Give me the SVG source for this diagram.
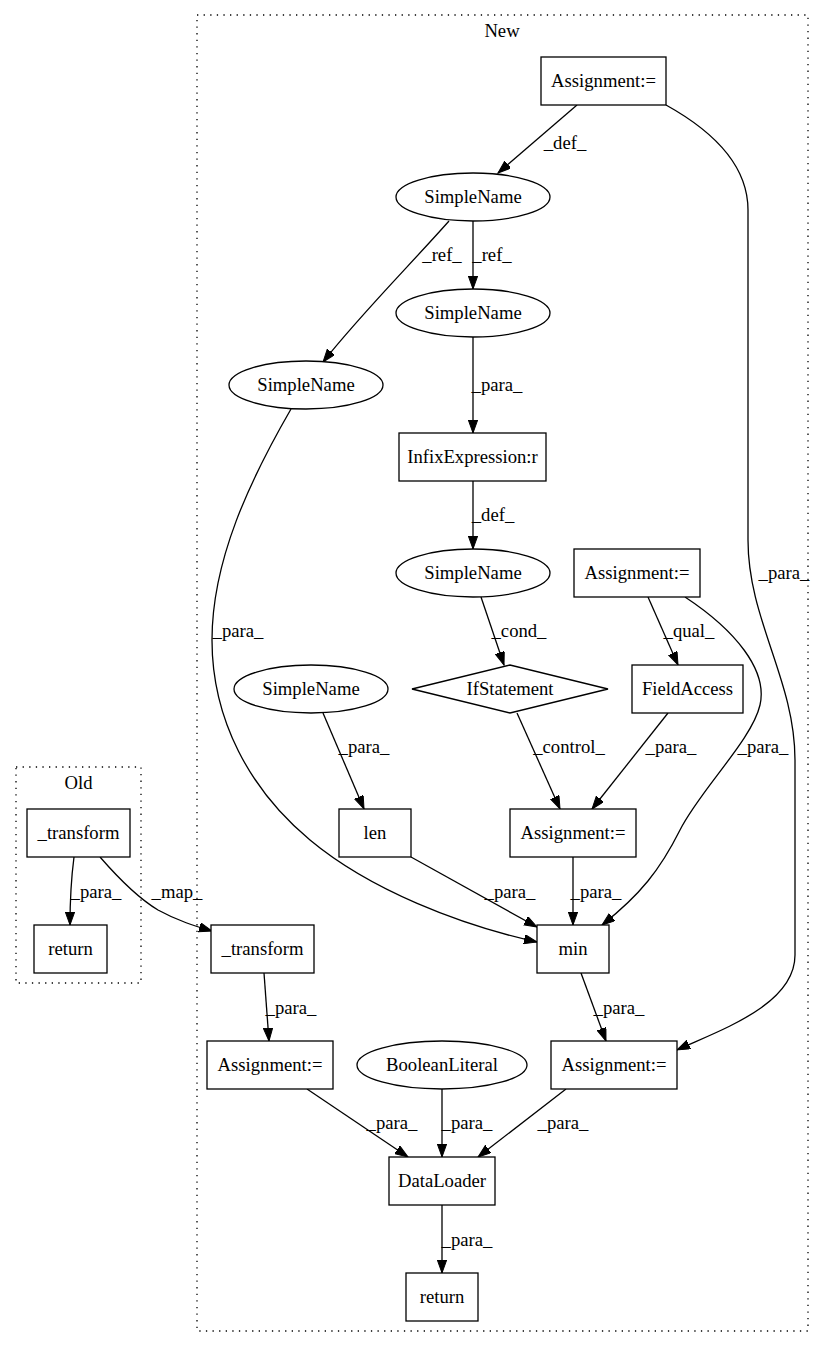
<svg xmlns="http://www.w3.org/2000/svg" width="824" height="1348" viewBox="0 0 824 1348">
<style>
text{font-family:"Liberation Serif","Times New Roman",serif;font-size:18.67px;fill:#000}
.n{text-anchor:middle}
.l{text-anchor:middle}
.box{fill:#fff;stroke:#000;stroke-width:1.3}
.cl{fill:none;stroke:#000;stroke-width:1.3;stroke-dasharray:1.3,5.3}
.e{fill:none;stroke:#000;stroke-width:1.3;marker-end:url(#ah)}
</style>
<defs>
<marker id="ah" markerUnits="userSpaceOnUse" markerWidth="14" markerHeight="10" refX="13" refY="4.67" orient="auto">
<path d="M0,0 L13,4.67 L0,9.33 z" fill="#000" stroke="#000" stroke-width="1"/>
</marker>
</defs>
<rect width="824" height="1348" fill="#fff"/>
<g id="cluster_old"><rect class="cl" x="16" y="767" width="125" height="216"/><text class="n" x="78.5" y="789">Old</text></g>
<g id="cluster_new"><rect class="cl" x="197" y="15" width="611" height="1316"/><text class="n" x="502" y="37">New</text></g>
<g id="edges">
<path class="e" d="M577,105 L498,173"/><text class="l" x="565" y="149">_def_</text>
<path class="e" d="M666,105 C720,135 748,170 748,210 L748,540 C748,620 795,680 795,760 L795,955 C795,1005 720,1030 677,1050"/><text class="l" x="784" y="579">_para_</text>
<path class="e" d="M473,221 L473,289"/><text class="l" x="492" y="261">_ref_</text>
<path class="e" d="M449,221 C410,265 360,315 323,362"/><text class="l" x="442" y="261">_ref_</text>
<path class="e" d="M473,337 L473,433"/><text class="l" x="497" y="391">_para_</text>
<path class="e" d="M473,481 L473,549"/><text class="l" x="493" y="521">_def_</text>
<path class="e" d="M481,597 L504,665"/><text class="l" x="519" y="637">_cond_</text>
<path class="e" d="M648,597 L678,665"/><text class="l" x="689" y="637">_qual_</text>
<path class="e" d="M685,597 C735,630 768,670 760,705 C752,740 700,790 680,830 C660,870 640,895 602,925"/><text class="l" x="763" y="753">_para_</text>
<path class="e" d="M291,409 C250,480 212,560 212,640 C212,720 250,790 310,840 C370,890 460,925 537,942"/><text class="l" x="238" y="637">_para_</text>
<path class="e" d="M323,713 L364,809"/><text class="l" x="364" y="753">_para_</text>
<path class="e" d="M517,713 L560,809"/><text class="l" x="569" y="753">_control_</text>
<path class="e" d="M668,713 L592,809"/><text class="l" x="671" y="753">_para_</text>
<path class="e" d="M411,857 L537,927"/><text class="l" x="510" y="898">_para_</text>
<path class="e" d="M573,857 L573,925"/><text class="l" x="596" y="898">_para_</text>
<path class="e" d="M581,973 L606,1041"/><text class="l" x="619" y="1014">_para_</text>
<path class="e" d="M264,973 L269,1041"/><text class="l" x="291" y="1014">_para_</text>
<path class="e" d="M307,1089 L408,1157"/><text class="l" x="392" y="1129">_para_</text>
<path class="e" d="M442,1089 L442,1157"/><text class="l" x="467" y="1129">_para_</text>
<path class="e" d="M566,1089 L478,1157"/><text class="l" x="563" y="1129">_para_</text>
<path class="e" d="M442,1205 L442,1273"/><text class="l" x="467" y="1246">_para_</text>
<path class="e" d="M74,857 C71,880 70,900 70,925"/><text class="l" x="96" y="898">_para_</text>
<path class="e" d="M100,857 C120,880 138,898 158,910 C178,921 195,926 212,931"/><text class="l" x="177" y="898">_map_</text>
</g>
<g id="n_assign_top"><rect class="box" x="541" y="57" width="125" height="48"/><text class="n" x="603.5" y="87">Assignment:=</text></g>
<g id="n_sn1"><ellipse class="box" cx="473" cy="197" rx="77" ry="24"/><text class="n" x="473" y="203">SimpleName</text></g>
<g id="n_sn2"><ellipse class="box" cx="473" cy="313" rx="77" ry="24"/><text class="n" x="473" y="319">SimpleName</text></g>
<g id="n_sn3"><ellipse class="box" cx="306" cy="385" rx="77" ry="24"/><text class="n" x="306" y="391">SimpleName</text></g>
<g id="n_infix"><rect class="box" x="399" y="433" width="147" height="48"/><text class="n" x="472.5" y="463">InfixExpression:r</text></g>
<g id="n_sn4"><ellipse class="box" cx="473" cy="573" rx="77" ry="24"/><text class="n" x="473" y="579">SimpleName</text></g>
<g id="n_assign_mid"><rect class="box" x="574" y="549" width="126" height="48"/><text class="n" x="637" y="579">Assignment:=</text></g>
<g id="n_sn5"><ellipse class="box" cx="311" cy="689" rx="77" ry="24"/><text class="n" x="311" y="695">SimpleName</text></g>
<g id="n_if"><polygon class="box" points="412,689 510,665 608,689 510,713"/><text class="n" x="510" y="695">IfStatement</text></g>
<g id="n_field"><rect class="box" x="632" y="665" width="111" height="48"/><text class="n" x="687.5" y="695">FieldAccess</text></g>
<g id="n_len"><rect class="box" x="339" y="809" width="72" height="48"/><text class="n" x="375" y="839">len</text></g>
<g id="n_assign_low"><rect class="box" x="510" y="809" width="126" height="48"/><text class="n" x="573" y="839">Assignment:=</text></g>
<g id="n_min"><rect class="box" x="537" y="925" width="72" height="48"/><text class="n" x="573" y="955">min</text></g>
<g id="n_transform_new"><rect class="box" x="211" y="925" width="103" height="48"/><text class="n" x="262.5" y="955">_transform</text></g>
<g id="n_assign_bl"><rect class="box" x="207" y="1041" width="126" height="48"/><text class="n" x="270" y="1071">Assignment:=</text></g>
<g id="n_bool"><ellipse class="box" cx="442" cy="1065" rx="85" ry="24"/><text class="n" x="442" y="1071">BooleanLiteral</text></g>
<g id="n_assign_br"><rect class="box" x="551" y="1041" width="126" height="48"/><text class="n" x="614" y="1071">Assignment:=</text></g>
<g id="n_dataloader"><rect class="box" x="389" y="1157" width="106" height="48"/><text class="n" x="442" y="1187">DataLoader</text></g>
<g id="n_return_new"><rect class="box" x="406" y="1273" width="72" height="48"/><text class="n" x="442" y="1303">return</text></g>
<g id="n_transform_old"><rect class="box" x="27" y="809" width="103" height="48"/><text class="n" x="78.5" y="839">_transform</text></g>
<g id="n_return_old"><rect class="box" x="34" y="925" width="73" height="48"/><text class="n" x="70.5" y="955">return</text></g>
</svg>
